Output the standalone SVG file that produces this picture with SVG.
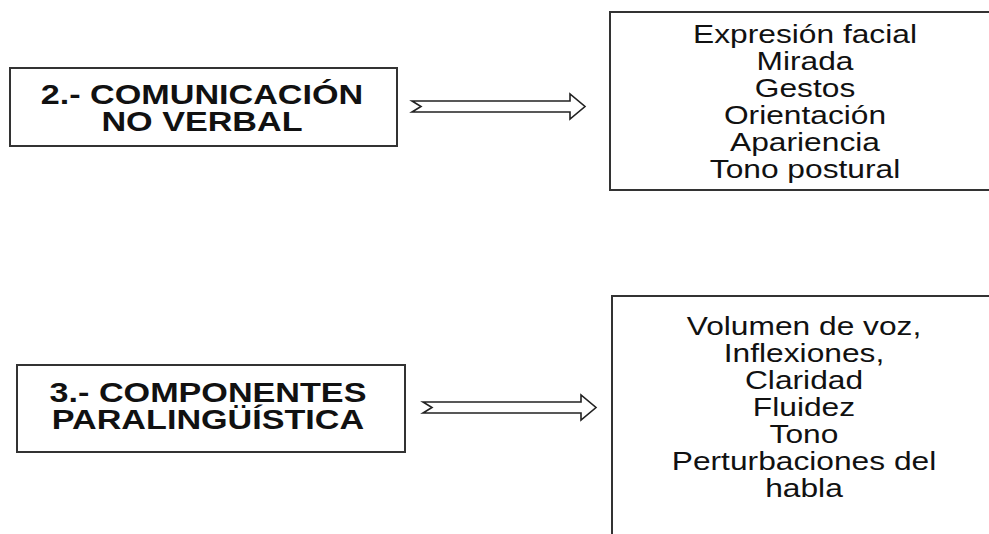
<svg xmlns="http://www.w3.org/2000/svg" width="989" height="534" viewBox="0 0 989 534">
<style>
.box{fill:#fff;stroke:#333;stroke-width:2}
.arrow{fill:#fff;stroke:#222;stroke-width:1.6;stroke-linejoin:miter}
.h{font-family:"Liberation Sans",Arial,sans-serif;font-weight:bold;font-size:28px;fill:#111;text-anchor:middle}
.t{font-family:"Liberation Sans",Arial,sans-serif;font-size:26px;fill:#111;text-anchor:middle}
</style>
<rect width="989" height="534" fill="#fff"/>
<g id="node-comunicacion">
<rect class="box" x="10" y="68" width="387" height="78"/>
<g transform="translate(202,0) scale(1.22,1)">
<text class="h" x="0" y="104">2.- COMUNICACIÓN</text>
<text class="h" x="0" y="131">NO VERBAL</text>
</g>
</g>
<g id="node-noverbal-list">
<rect class="box" x="610" y="12" width="400" height="178"/>
<g transform="translate(805,0) scale(1.22,1)">
<text class="t" x="0" y="43">Expresión facial</text>
<text class="t" x="0" y="70">Mirada</text>
<text class="t" x="0" y="97">Gestos</text>
<text class="t" x="0" y="124">Orientación</text>
<text class="t" x="0" y="151">Apariencia</text>
<text class="t" x="0" y="178">Tono postural</text>
</g>
</g>
<g id="node-paralinguistica">
<rect class="box" x="17" y="365" width="388" height="87"/>
<g transform="translate(208,0) scale(1.22,1)">
<text class="h" x="0" y="402">3.- COMPONENTES</text>
<text class="h" x="0" y="429">PARALINGÜÍSTICA</text>
</g>
</g>
<g id="node-paralinguistica-list">
<rect class="box" x="612" y="296" width="400" height="260"/>
<g transform="translate(804,0) scale(1.22,1)">
<text class="t" x="0" y="335">Volumen de voz,</text>
<text class="t" x="0" y="362">Inflexiones,</text>
<text class="t" x="0" y="389">Claridad</text>
<text class="t" x="0" y="416">Fluidez</text>
<text class="t" x="0" y="443">Tono</text>
<text class="t" x="0" y="470">Perturbaciones del</text>
<text class="t" x="0" y="497">habla</text>
</g>
</g>
<g id="connectors">
<polygon class="arrow" points="412,101 570,101 570,94 585,106.5 570,119 570,112 412,112 421,106.5"/>
<polygon class="arrow" points="423,402 581,402 581,395 596,407.5 581,420 581,413 423,413 432,407.5"/>
</g>
</svg>
